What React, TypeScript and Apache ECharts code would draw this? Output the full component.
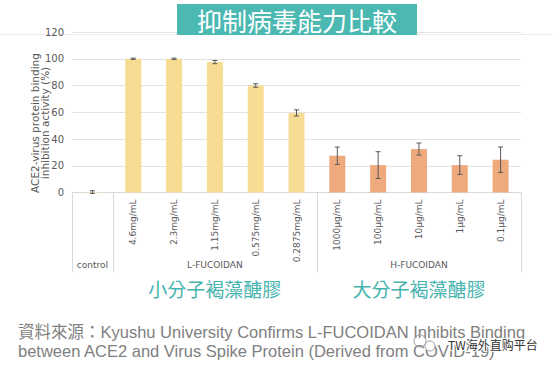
import React, { useEffect, useRef } from "react";
import * as echarts from "echarts";

const categories = ["", "4.6mg/mL", "2.3mg/mL", "1.15mg/mL", "0.575mg/mL", "0.2875mg/mL", "1000µg/mL", "100µg/mL", "10µg/mL", "1µg/mL", "0.1µg/mL"];
const groupLabels = ["control", "", "", "L-FUCOIDAN", "", "", "", "", "H-FUCOIDAN", "", ""];
const chineseLabels = ["", "", "", "小分子褐藻醣膠", "", "", "", "", "大分子褐藻醣膠", "", ""];
const groupOfBar = ["control", "L", "L", "L", "L", "L", "H", "H", "H", "H", "H"];
const values = [0.3, 100, 100, 97.5, 80, 59.5, 27.5, 20.5, 32.5, 20.5, 24.5];
const errors = [1, 0.5, 0.5, 1.2, 1.3, 2.3, 6.5, 10, 4.5, 7, 9.5];
const yTicks = [0, 20, 40, 60, 80, 100, 120];
const yAxisTitle = "ACE2-virus protein binding\ninhibition activity (%)";

const colorFor: Record<string, string> = { control: "#f7dc93", L: "#f7dc93", H: "#eeaa7c" };

export default function App() {
  const ref = useRef<HTMLDivElement>(null);
  useEffect(() => {
    if (!ref.current) return;
    const chart = echarts.init(ref.current, null, { renderer: "svg" });
    const errData = values.map((v, i) => [i, v - errors[i], v + errors[i]]);
    chart.setOption({
      animation: false,
      backgroundColor: "#ffffff",
      grid: { left: 72, right: 32, top: 32, bottom: 177.5, containLabel: false },
      xAxis: [
        {
          type: "category",
          data: categories,
          position: "bottom",
          axisLine: { show: true, lineStyle: { color: "#d9d9d9" } },
          axisTick: {
            show: true,
            length: 80,
            interval: (i: number) => i === 0 || i === 1 || i === 6,
            lineStyle: { color: "#d9d9d9" },
          },
          axisLabel: { interval: 0, rotate: 90, margin: 7, fontSize: 9, color: "#595959", fontFamily: "DejaVu Sans" },
        },
        {
          type: "category",
          data: groupLabels,
          position: "bottom",
          offset: 60,
          axisLine: { show: false },
          axisTick: { show: false },
          axisLabel: { interval: 0, margin: 8, fontSize: 9, color: "#595959", fontFamily: "DejaVu Sans" },
        },
        {
          type: "category",
          data: chineseLabels,
          position: "bottom",
          offset: 82,
          axisLine: { show: false },
          axisTick: { show: false },
          axisLabel: { interval: 0, margin: 4, fontSize: 19, color: "#46b3ae", fontFamily: "Noto Sans CJK TC" },
        },
      ],
      yAxis: {
        type: "value",
        min: 0,
        max: yTicks[yTicks.length - 1],
        interval: 20,
        axisLine: { show: false },
        axisTick: { show: false },
        axisLabel: { fontSize: 10, color: "#595959", margin: 8, fontFamily: "DejaVu Sans" },
        splitLine: { lineStyle: { color: "#e3e3e3" } },
      },
      series: [
        {
          type: "bar",
          barWidth: 16,
          data: values.map((v, i) => ({ value: v, itemStyle: { color: colorFor[groupOfBar[i]] } })),
        },
        {
          type: "custom",
          data: errData,
          encode: { x: 0, y: [1, 2] },
          z: 5,
          renderItem: (params: any, api: any) => {
            const x = api.value(0);
            const lo = api.coord([x, api.value(1)]);
            const hi = api.coord([x, api.value(2)]);
            const w = 2.5;
            const style = { stroke: "#595959", lineWidth: 1 };
            return {
              type: "group",
              children: [
                { type: "line", shape: { x1: lo[0], y1: lo[1], x2: hi[0], y2: hi[1] }, style },
                { type: "line", shape: { x1: lo[0] - w, y1: lo[1], x2: lo[0] + w, y2: lo[1] }, style },
                { type: "line", shape: { x1: hi[0] - w, y1: hi[1], x2: hi[0] + w, y2: hi[1] }, style },
              ],
            };
          },
        },
      ],
      graphic: [
        {
          type: "text",
          x: 40,
          y: 123,
          rotation: Math.PI / 2,
          style: {
            text: yAxisTitle,
            fill: "#595959",
            fontSize: 10.5,
            lineHeight: 10.5,
            align: "center",
            verticalAlign: "middle",
            fontFamily: "DejaVu Sans",
          },
        },
        { type: "line", shape: { x1: 0, y1: 34.5, x2: 553, y2: 34.5 }, style: { stroke: "#ececec", lineWidth: 1 }, z: -1 },
        { type: "rect", shape: { x: 177, y: 4, width: 240, height: 31 }, style: { fill: "#4cb8b2" }, z: 5 },
        {
          type: "text",
          x: 297,
          y: 20,
          z: 6,
          style: {
            text: "抑制病毒能力比較",
            fill: "#ffffff",
            fontSize: 25,
            align: "center",
            verticalAlign: "middle",
            fontFamily: "Noto Sans CJK TC",
          },
        },
        {
          type: "text",
          left: 18,
          top: 322,
          style: {
            text: "資料來源：Kyushu University Confirms L-FUCOIDAN Inhibits Binding\nbetween ACE2 and Virus Spike Protein (Derived from COVID-19)",
            fill: "#808080",
            fontSize: 16.5,
            lineHeight: 19.5,
            fontFamily: "Liberation Sans, Noto Sans CJK TC",
          },
        },
        { type: "circle", shape: { cx: 420, cy: 341, r: 6 }, style: { fill: "none", stroke: "#9a9a9a", lineWidth: 1 }, z: 10 },
        { type: "circle", shape: { cx: 430, cy: 346, r: 5 }, style: { fill: "#fff", stroke: "#9a9a9a", lineWidth: 1 }, z: 10 },
        {
          type: "text",
          left: 447,
          top: 337,
          z: 10,
          style: {
            text: "TW海外直购平台",
            fill: "#333333",
            fontSize: 12,
            fontFamily: "Noto Sans CJK SC",
            stroke: "#ffffff",
            lineWidth: 2,
          },
        },
      ],
    });
    return () => chart.dispose();
  }, []);
  return <div ref={ref} style={{ width: 553, height: 370, position: "absolute", left: 0, top: 0 }} />;
}
